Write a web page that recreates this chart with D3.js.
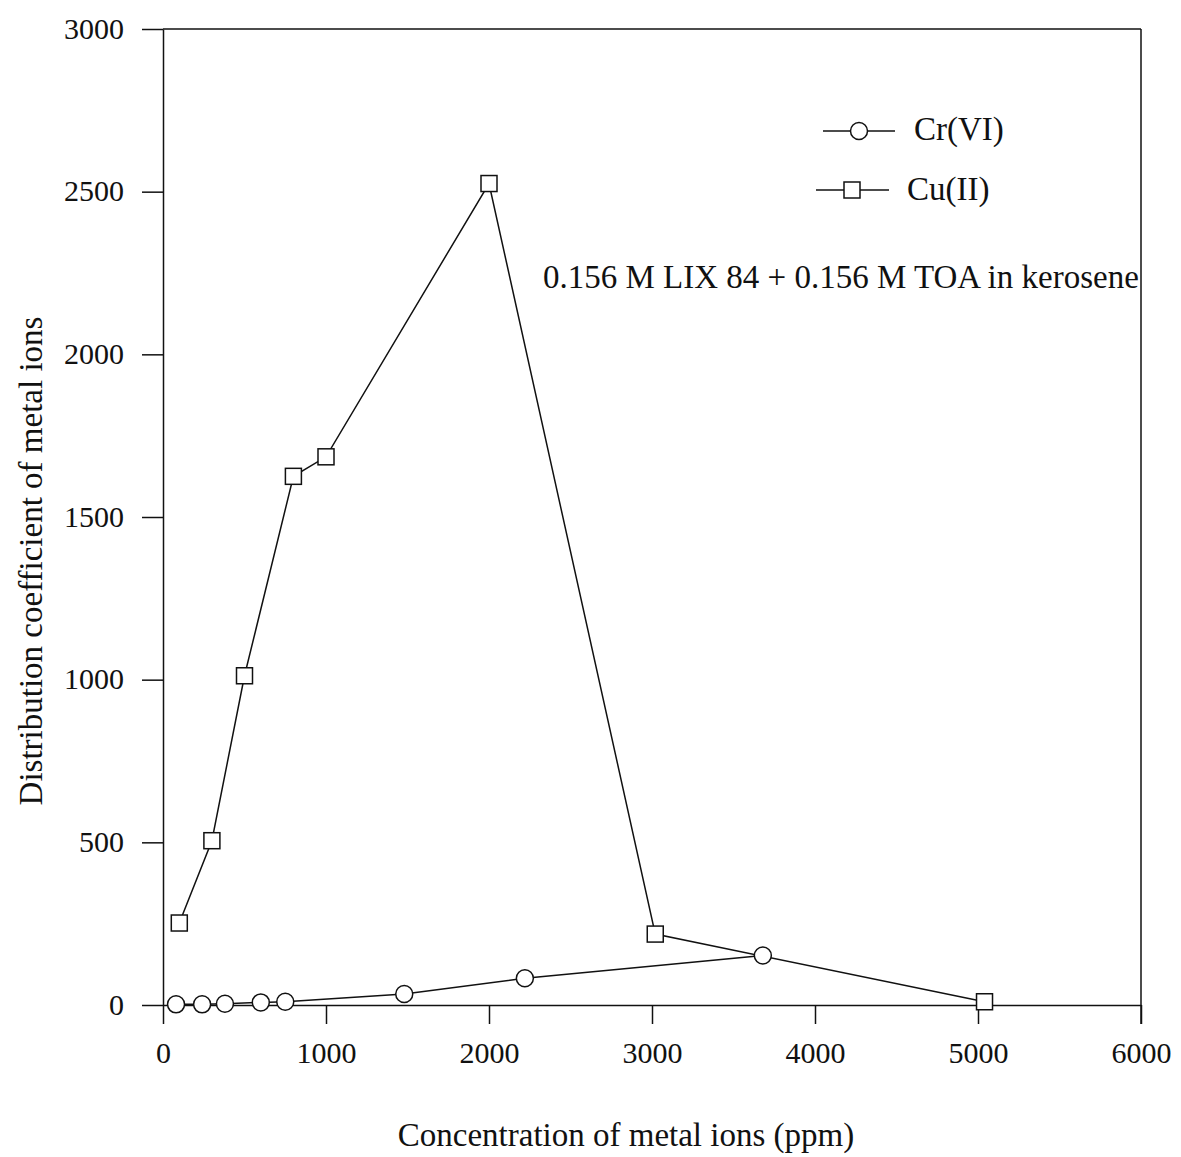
<!DOCTYPE html>
<html lang="en">
<head>
    <meta charset="UTF-8">
    <title>Distribution coefficient of metal ions</title>
    <script src="https://cdn.jsdelivr.net/npm/d3@7.8.4/dist/d3.min.js"></script>
    <style>
        body { margin: 0; background: #fff; }
        svg { display: block; }
        text { font-family: "Liberation Serif", "Times New Roman", serif; fill: #111; }
        .axis path, .axis line { stroke: #111; stroke-width: 1.5px; }
        .series { fill: none; stroke: #111; stroke-width: 1.5px; }
        .marker { fill: #fff; stroke: #111; stroke-width: 1.5px; }
    </style>
</head>
<body>
    <svg id="chart" width="1181" height="1157"></svg>

    <script>
        // Data
        const crConc = [80, 240, 380, 600, 750, 1480, 2220, 3680];
        const crDist = [2, 2, 4, 8, 10, 34, 82, 152];

        const cuConc = [100, 300, 500, 800, 1000, 2000, 3020, 5040];
        const cuDist = [252, 505, 1012, 1625, 1685, 2525, 218, 10];

        const xTicks = [0, 1000, 2000, 3000, 4000, 5000, 6000];
        const yTicks = [0, 500, 1000, 1500, 2000, 2500, 3000];

        const svg = d3.select("#chart");
        const plotLeft = 163, plotRight = 1141, plotTop = 29, plotBottom = 1005;

        const x = d3.scaleLinear().domain([0, 6000]).range([plotLeft, plotRight]);
        const y = d3.scaleLinear().domain([0, 3000]).range([plotBottom, plotTop]);

        // axes (ticks point outward, top and right lines close the frame)
        const xAxis = svg.append("g")
            .attr("class", "axis")
            .attr("transform", `translate(0,${plotBottom})`)
            .call(d3.axisBottom(x).tickValues(xTicks).tickSize(19).tickSizeOuter(0).tickPadding(18).tickFormat(d3.format("d")));
        xAxis.selectAll("text").style("font-size", "30px");

        const yAxis = svg.append("g")
            .attr("class", "axis")
            .attr("transform", `translate(${plotLeft},0)`)
            .call(d3.axisLeft(y).tickValues(yTicks).tickSize(21).tickSizeOuter(0).tickPadding(18).tickFormat(d3.format("d")));
        yAxis.selectAll("text").style("font-size", "30px").attr("dy", "0.3em");

        // frame
        svg.append("line")
            .attr("x1", plotLeft).attr("x2", plotRight)
            .attr("y1", plotTop).attr("y2", plotTop)
            .attr("stroke", "#111").attr("stroke-width", 1.5);
        svg.append("line")
            .attr("x1", plotRight).attr("x2", plotRight)
            .attr("y1", plotTop).attr("y2", plotBottom + 19)
            .attr("stroke", "#111").attr("stroke-width", 1.5);

        const line = d3.line().x(d => x(d[0])).y(d => y(d[1]));
        const crPts = crConc.map((c, i) => [c, crDist[i]]);
        const cuPts = cuConc.map((c, i) => [c, cuDist[i]]);

        svg.append("path").attr("class", "series").attr("d", line(crPts));
        svg.append("path").attr("class", "series").attr("d", line(cuPts));

        const r = 8.5, s = 16;
        svg.append("g").selectAll("circle")
            .data(crPts)
            .enter().append("circle")
            .attr("class", "marker")
            .attr("cx", d => x(d[0]))
            .attr("cy", d => y(d[1]))
            .attr("r", r);

        svg.append("g").selectAll("rect")
            .data(cuPts)
            .enter().append("rect")
            .attr("class", "marker")
            .attr("x", d => x(d[0]) - s / 2)
            .attr("y", d => y(d[1]) - s / 2)
            .attr("width", s)
            .attr("height", s);

        // legend
        const legend = svg.append("g");
        legend.append("line").attr("x1", 823).attr("x2", 895).attr("y1", 131).attr("y2", 131)
            .attr("stroke", "#111").attr("stroke-width", 1.5);
        legend.append("circle").attr("class", "marker").attr("cx", 859).attr("cy", 131).attr("r", r);
        legend.append("text").attr("x", 914).attr("y", 140).style("font-size", "33px").text("Cr(VI)");

        legend.append("line").attr("x1", 816).attr("x2", 889).attr("y1", 190).attr("y2", 190)
            .attr("stroke", "#111").attr("stroke-width", 1.5);
        legend.append("rect").attr("class", "marker").attr("x", 852 - s / 2).attr("y", 190 - s / 2)
            .attr("width", s).attr("height", s);
        legend.append("text").attr("x", 907).attr("y", 200).style("font-size", "33px").text("Cu(II)");

        // annotation
        svg.append("text")
            .attr("x", 543).attr("y", 288)
            .style("font-size", "33px")
            .text("0.156 M LIX 84 + 0.156 M TOA in kerosene");

        // axis titles
        svg.append("text")
            .attr("x", 626).attr("y", 1146)
            .attr("text-anchor", "middle")
            .style("font-size", "33px")
            .text("Concentration of metal ions (ppm)");

        svg.append("text")
            .attr("transform", "translate(42,561) rotate(-90)")
            .attr("text-anchor", "middle")
            .style("font-size", "33px")
            .text("Distribution coefficient of metal ions");
    </script>
</body>
</html>
